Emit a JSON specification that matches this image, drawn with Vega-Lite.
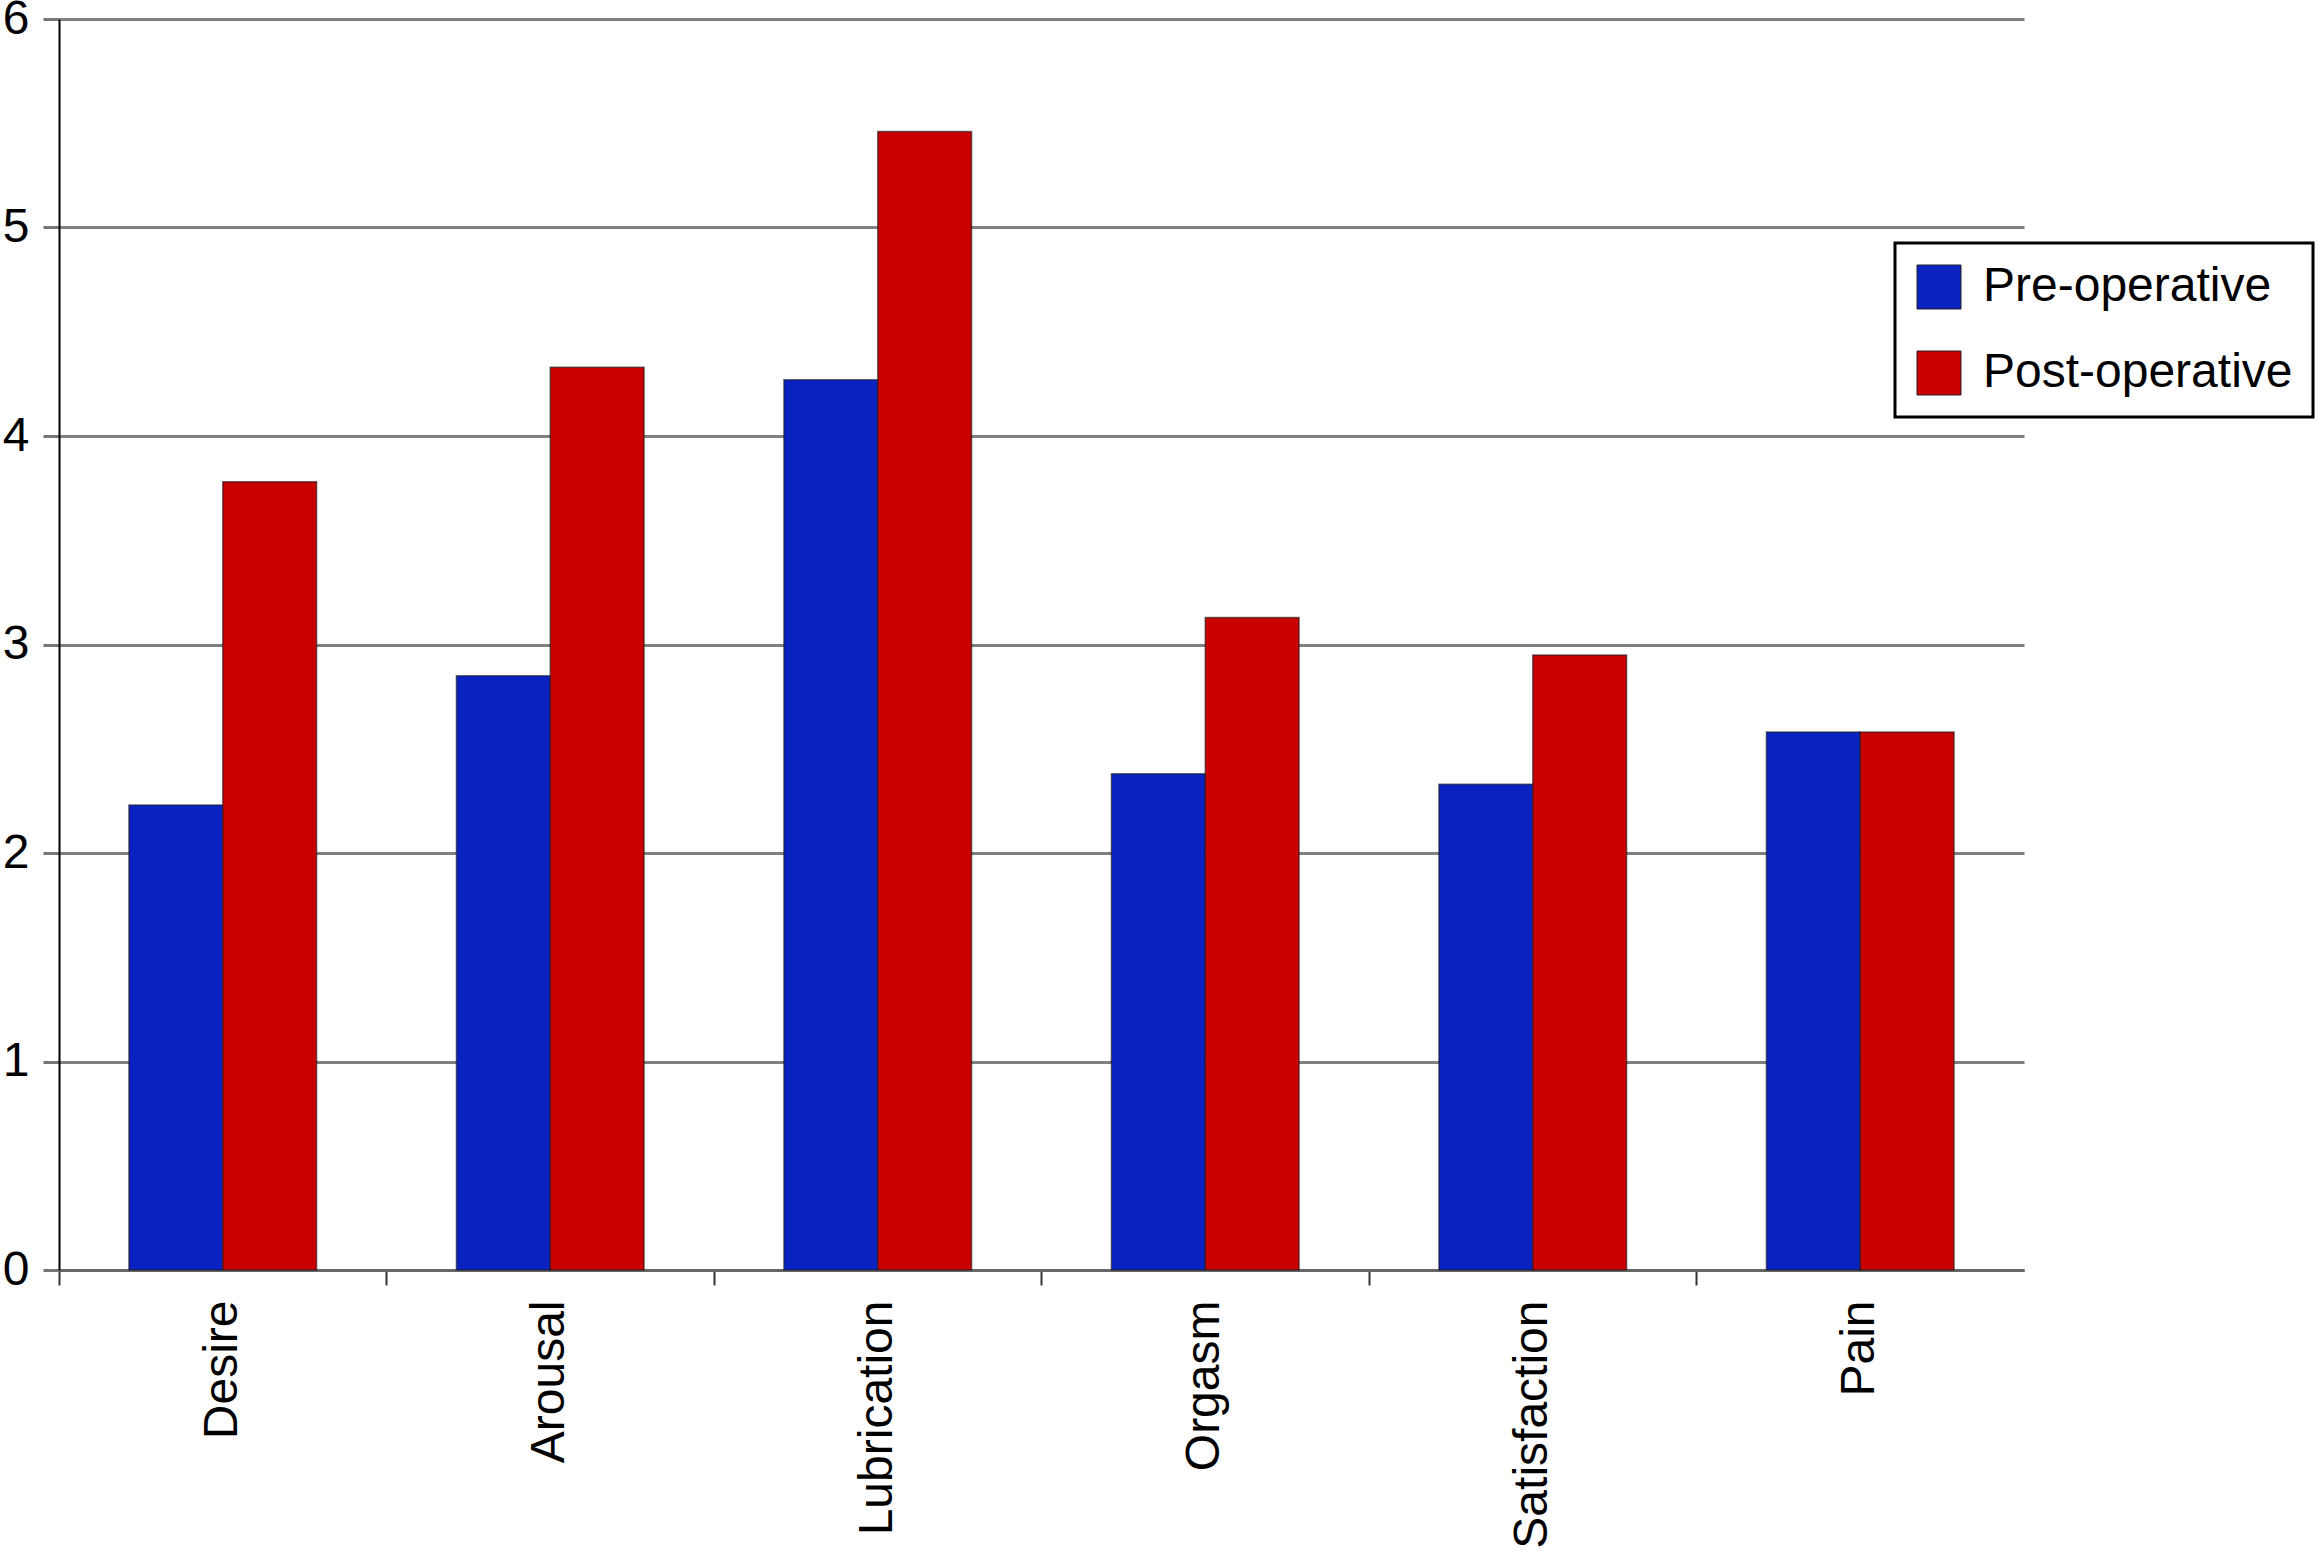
{
  "$schema": "https://vega.github.io/schema/vega-lite/v6.json",
  "autosize": {"type": "none"},
  "padding": {"left": 59, "top": 19, "right": 293, "bottom": 281},
  "width": 1965,
  "height": 1251,
  "background": "white",
  "config": {
    "font": "Liberation Sans",
    "view": {"stroke": null},
    "legend": {"strokeColor": "black", "strokeWidth": 3, "fillColor": "white", "padding": 20}
  },
  "data": {
    "values": [
      {"category": "Desire", "period": "Pre-operative", "score": 2.23},
      {"category": "Desire", "period": "Post-operative", "score": 3.78},
      {"category": "Arousal", "period": "Pre-operative", "score": 2.85},
      {"category": "Arousal", "period": "Post-operative", "score": 4.33},
      {"category": "Lubrication", "period": "Pre-operative", "score": 4.27},
      {"category": "Lubrication", "period": "Post-operative", "score": 5.46},
      {"category": "Orgasm", "period": "Pre-operative", "score": 2.38},
      {"category": "Orgasm", "period": "Post-operative", "score": 3.13},
      {"category": "Satisfaction", "period": "Pre-operative", "score": 2.33},
      {"category": "Satisfaction", "period": "Post-operative", "score": 2.95},
      {"category": "Pain", "period": "Pre-operative", "score": 2.58},
      {"category": "Pain", "period": "Post-operative", "score": 2.58}
    ]
  },
  "mark": {"type": "bar", "stroke": "#1a1a1a", "strokeWidth": 1.5, "strokeOpacity": 0.6},
  "encoding": {
    "x": {
      "field": "category",
      "type": "nominal",
      "sort": ["Desire", "Arousal", "Lubrication", "Orgasm", "Satisfaction", "Pain"],
      "scale": {"paddingInner": 0, "paddingOuter": 0},
      "axis": {
        "title": null,
        "bandPosition": 0,
        "labelAngle": -90,
        "labelAlign": "right",
        "labelBaseline": "middle",
        "labelFontSize": 48,
        "labelColor": "black",
        "labelPadding": 15,
        "labelLimit": 0,
        "tickSize": 15,
        "tickColor": "#333333",
        "tickWidth": 2,
        "domainColor": "#666666",
        "domainWidth": 3,
        "grid": false
      }
    },
    "xOffset": {
      "field": "period",
      "type": "nominal",
      "sort": ["Pre-operative", "Post-operative"],
      "scale": {"paddingInner": 0, "paddingOuter": 0.745}
    },
    "y": {
      "field": "score",
      "type": "quantitative",
      "scale": {"domain": [0, 6], "nice": false},
      "axis": {
        "title": null,
        "values": [0, 1, 2, 3, 4, 5, 6],
        "labelFontSize": 48,
        "labelColor": "black",
        "labelPadding": 14,
        "tickSize": 16,
        "tickColor": "#777777",
        "tickWidth": 3,
        "domainColor": "black",
        "domainWidth": 2,
        "grid": true,
        "gridColor": "#808080",
        "gridWidth": 3
      }
    },
    "color": {
      "field": "period",
      "type": "nominal",
      "sort": ["Pre-operative", "Post-operative"],
      "scale": {"domain": ["Pre-operative", "Post-operative"], "range": ["#0a22c0", "#c80000"]},
      "legend": {
        "title": null,
        "orient": "none",
        "legendX": 1836,
        "legendY": 224,
        "symbolType": "square",
        "symbolSize": 1936,
        "symbolStrokeColor": "#222222",
        "symbolStrokeWidth": 1,
        "labelFontSize": 48,
        "labelColor": "black",
        "labelOffset": 20,
        "labelLimit": 0,
        "rowPadding": 38
      }
    }
  }
}
